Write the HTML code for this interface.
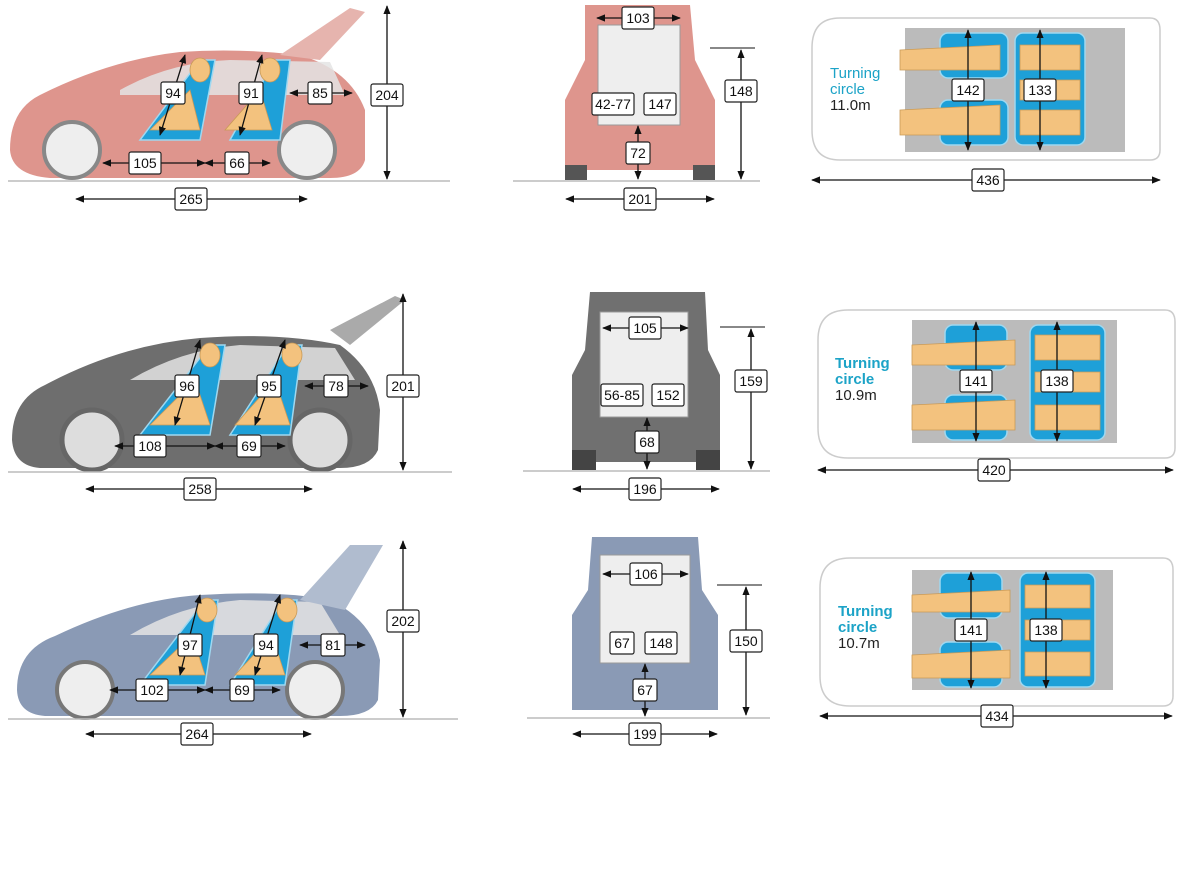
<!DOCTYPE html>
<html><head><meta charset="utf-8"><style>
html,body{margin:0;padding:0;background:#fff}
svg{display:block}
text{font-family:"Liberation Sans",sans-serif}
.l rect{fill:#fff;stroke:#222;stroke-width:1.2}
.l text{font-size:14px;fill:#111;text-anchor:middle;dominant-baseline:central}
.a{stroke:#111;stroke-width:1.3;marker-start:url(#m);marker-end:url(#m)}
.g{stroke:#bbb;stroke-width:1.5}
.tc{font-size:15px;fill:#1ca3c7}
.tm{font-size:15px;fill:#222}
.seat{fill:#1ea0d8;stroke:#9fd8f0;stroke-width:1.5}
.fig{fill:#f3c27e;stroke:#c99a57;stroke-width:.8}
.top{fill:#fff;stroke:#ccc;stroke-width:1.5}
.win{fill:#e4e4e4;opacity:.85}
</style></head><body>
<svg width="1204" height="869" viewBox="0 0 1204 869">
<defs><marker id="m" viewBox="0 0 10 10" refX="9" refY="5" markerWidth="7" markerHeight="7" orient="auto-start-reverse"><path d="M0,1 L10,5 L0,9z" fill="#111"/></marker></defs>

<!-- ROW 1 side car -->
<path d="M10,150 Q10,110 40,95 Q110,60 180,52 Q240,48 300,55 Q350,70 365,110 L365,160 Q360,178 330,178 L50,178 Q12,175 10,150z" fill="#de958d"/>
<path d="M120,90 Q170,62 230,60 L330,62 L345,95 L120,95z" class="win"/>
<path d="M280,55 L350,8 L365,12 L320,60z" fill="#e6b4ae"/>
<circle cx="72" cy="150" r="28" fill="#eee" stroke="#888" stroke-width="4"/>
<circle cx="307" cy="150" r="28" fill="#eee" stroke="#888" stroke-width="4"/>
<path d="M140,140 L200,140 L215,60 L200,60 Z" class="seat"/><path d="M230,140 L280,140 L290,60 L275,60 Z" class="seat"/>
<ellipse cx="200" cy="70" rx="10" ry="12" class="fig"/><ellipse cx="270" cy="70" rx="10" ry="12" class="fig"/>
<path d="M150,130 L190,90 L200,130z" class="fig"/><path d="M225,130 L260,90 L272,130z" class="fig"/>
<line x1="8" y1="181" x2="450" y2="181" class="g"/>
<line x1="387" y1="6" x2="387" y2="179" class="a"/>
<line x1="76" y1="199" x2="307" y2="199" class="a"/>
<line x1="103" y1="163" x2="205" y2="163" class="a"/><line x1="205" y1="163" x2="270" y2="163" class="a"/>
<line x1="160" y1="135" x2="185" y2="55" class="a"/><line x1="240" y1="135" x2="262" y2="55" class="a"/>
<line x1="290" y1="93" x2="352" y2="93" class="a"/>
<g class="l"><rect x="371" y="84" width="32" height="22" rx="2"/><text x="387" y="95">204</text></g>
<g class="l"><rect x="175" y="188" width="32" height="22" rx="2"/><text x="191" y="199">265</text></g>
<g class="l"><rect x="161" y="82" width="24" height="22" rx="2"/><text x="173" y="93">94</text></g>
<g class="l"><rect x="239" y="82" width="24" height="22" rx="2"/><text x="251" y="93">91</text></g>
<g class="l"><rect x="308" y="82" width="24" height="22" rx="2"/><text x="320" y="93">85</text></g>
<g class="l"><rect x="129" y="152" width="32" height="22" rx="2"/><text x="145" y="163">105</text></g>
<g class="l"><rect x="225" y="152" width="24" height="22" rx="2"/><text x="237" y="163">66</text></g>

<!-- ROW 1 rear -->
<path d="M585,5 L690,5 L695,60 L715,100 L715,170 L565,170 L565,100 L585,60z" fill="#de958d"/>
<rect x="598" y="25" width="82" height="100" fill="#eee" stroke="#999"/>
<rect x="565" y="165" width="22" height="15" fill="#555"/><rect x="693" y="165" width="22" height="15" fill="#555"/>
<line x1="513" y1="181" x2="760" y2="181" class="g"/>
<line x1="597" y1="18" x2="680" y2="18" class="a"/>
<line x1="638" y1="126" x2="638" y2="179" class="a"/>
<line x1="566" y1="199" x2="714" y2="199" class="a"/>
<line x1="741" y1="50" x2="741" y2="179" class="a"/><line x1="710" y1="48" x2="755" y2="48" stroke="#111"/>
<g class="l"><rect x="622" y="7" width="32" height="22" rx="2"/><text x="638" y="18">103</text></g>
<g class="l"><rect x="592" y="93" width="42" height="22" rx="2"/><text x="613" y="104">42-77</text></g>
<g class="l"><rect x="644" y="93" width="32" height="22" rx="2"/><text x="660" y="104">147</text></g>
<g class="l"><rect x="626" y="142" width="24" height="22" rx="2"/><text x="638" y="153">72</text></g>
<g class="l"><rect x="624" y="188" width="32" height="22" rx="2"/><text x="640" y="199">201</text></g>
<g class="l"><rect x="725" y="80" width="32" height="22" rx="2"/><text x="741" y="91">148</text></g>

<!-- ROW 1 top -->
<path d="M840,18 L1150,18 Q1160,18 1160,30 L1160,150 Q1160,160 1150,160 L840,160 Q812,160 812,130 L812,48 Q812,18 840,18z" class="top"/>
<rect x="905" y="28" width="220" height="124" fill="#bbb"/>
<rect x="940" y="33" width="68" height="45" rx="8" class="seat"/><rect x="940" y="100" width="68" height="45" rx="8" class="seat"/>
<rect x="1015" y="33" width="70" height="112" rx="8" class="seat"/>
<path d="M900,50 L1000,45 L1000,70 L900,70z M900,110 L1000,105 L1000,135 L900,135z M1020,45 L1080,45 L1080,70 L1020,70z M1020,80 L1080,80 L1080,100 L1020,100z M1020,110 L1080,110 L1080,135 L1020,135z" class="fig"/>
<line x1="968" y1="30" x2="968" y2="150" class="a"/><line x1="1040" y1="30" x2="1040" y2="150" class="a"/>
<text x="830" y="78" class="tc">Turning</text><text x="830" y="94" class="tc">circle</text><text x="830" y="110" class="tm">11.0m</text>
<g class="l"><rect x="952" y="79" width="32" height="22" rx="2"/><text x="968" y="90">142</text></g>
<g class="l"><rect x="1024" y="79" width="32" height="22" rx="2"/><text x="1040" y="90">133</text></g>
<line x1="812" y1="180" x2="1160" y2="180" class="a"/>
<g class="l"><rect x="972" y="169" width="32" height="22" rx="2"/><text x="988" y="180">436</text></g>

<!-- ROW 2 side -->
<path d="M12,440 Q12,400 45,385 Q120,345 200,338 Q280,332 340,345 Q375,370 380,410 L378,450 Q370,468 340,468 L40,468 Q14,466 12,440z" fill="#6e6e6e"/>
<path d="M130,380 Q180,350 240,345 L335,348 L355,380z" class="win"/>
<path d="M330,330 L395,296 L405,300 L350,345z" fill="#aaa"/>
<circle cx="92" cy="440" r="30" fill="#ddd" stroke="#666" stroke-width="5"/>
<circle cx="320" cy="440" r="30" fill="#ddd" stroke="#666" stroke-width="5"/>
<path d="M140,435 L210,435 L225,345 L210,345 Z" class="seat"/><path d="M230,435 L290,435 L302,345 L288,345 Z" class="seat"/>
<ellipse cx="210" cy="355" rx="10" ry="12" class="fig"/><ellipse cx="292" cy="355" rx="10" ry="12" class="fig"/>
<path d="M150,425 L195,380 L210,425z" class="fig"/><path d="M235,425 L275,380 L290,425z" class="fig"/>
<line x1="8" y1="472" x2="452" y2="472" class="g"/>
<line x1="403" y1="294" x2="403" y2="470" class="a"/>
<line x1="86" y1="489" x2="312" y2="489" class="a"/>
<line x1="115" y1="446" x2="215" y2="446" class="a"/><line x1="215" y1="446" x2="285" y2="446" class="a"/>
<line x1="175" y1="425" x2="200" y2="340" class="a"/><line x1="255" y1="425" x2="285" y2="340" class="a"/>
<line x1="305" y1="386" x2="368" y2="386" class="a"/>
<g class="l"><rect x="387" y="375" width="32" height="22" rx="2"/><text x="403" y="386">201</text></g>
<g class="l"><rect x="184" y="478" width="32" height="22" rx="2"/><text x="200" y="489">258</text></g>
<g class="l"><rect x="175" y="375" width="24" height="22" rx="2"/><text x="187" y="386">96</text></g>
<g class="l"><rect x="257" y="375" width="24" height="22" rx="2"/><text x="269" y="386">95</text></g>
<g class="l"><rect x="324" y="375" width="24" height="22" rx="2"/><text x="336" y="386">78</text></g>
<g class="l"><rect x="134" y="435" width="32" height="22" rx="2"/><text x="150" y="446">108</text></g>
<g class="l"><rect x="237" y="435" width="24" height="22" rx="2"/><text x="249" y="446">69</text></g>

<!-- ROW 2 rear -->
<path d="M590,292 L705,292 L708,350 L720,375 L720,462 L572,462 L572,375 L585,350z" fill="#707070"/>
<rect x="600" y="312" width="88" height="105" fill="#eee" stroke="#999"/>
<rect x="572" y="450" width="24" height="20" fill="#444"/><rect x="696" y="450" width="24" height="20" fill="#444"/>
<line x1="523" y1="471" x2="770" y2="471" class="g"/>
<line x1="603" y1="328" x2="688" y2="328" class="a"/>
<line x1="647" y1="418" x2="647" y2="469" class="a"/>
<line x1="573" y1="489" x2="719" y2="489" class="a"/>
<line x1="751" y1="329" x2="751" y2="469" class="a"/><line x1="720" y1="327" x2="765" y2="327" stroke="#111"/>
<g class="l"><rect x="629" y="317" width="32" height="22" rx="2"/><text x="645" y="328">105</text></g>
<g class="l"><rect x="601" y="384" width="42" height="22" rx="2"/><text x="622" y="395">56-85</text></g>
<g class="l"><rect x="652" y="384" width="32" height="22" rx="2"/><text x="668" y="395">152</text></g>
<g class="l"><rect x="635" y="431" width="24" height="22" rx="2"/><text x="647" y="442">68</text></g>
<g class="l"><rect x="629" y="478" width="32" height="22" rx="2"/><text x="645" y="489">196</text></g>
<g class="l"><rect x="735" y="370" width="32" height="22" rx="2"/><text x="751" y="381">159</text></g>

<!-- ROW 2 top -->
<path d="M848,310 L1165,310 Q1175,310 1175,322 L1175,448 Q1175,458 1165,458 L848,458 Q818,458 818,428 L818,340 Q818,310 848,310z" class="top"/>
<rect x="912" y="320" width="205" height="123" fill="#bbb"/>
<rect x="945" y="325" width="62" height="45" rx="8" class="seat"/><rect x="945" y="395" width="62" height="45" rx="8" class="seat"/>
<rect x="1030" y="325" width="75" height="115" rx="8" class="seat"/>
<path d="M912,345 L1015,340 L1015,365 L912,365z M912,405 L1015,400 L1015,430 L912,430z M1035,335 L1100,335 L1100,360 L1035,360z M1035,372 L1100,372 L1100,392 L1035,392z M1035,405 L1100,405 L1100,430 L1035,430z" class="fig"/>
<line x1="976" y1="322" x2="976" y2="441" class="a"/><line x1="1057" y1="322" x2="1057" y2="441" class="a"/>
<text x="835" y="368" class="tc" font-weight="bold">Turning</text><text x="835" y="384" class="tc" font-weight="bold">circle</text><text x="835" y="400" class="tm">10.9m</text>
<g class="l"><rect x="960" y="370" width="32" height="22" rx="2"/><text x="976" y="381">141</text></g>
<g class="l"><rect x="1041" y="370" width="32" height="22" rx="2"/><text x="1057" y="381">138</text></g>
<line x1="818" y1="470" x2="1173" y2="470" class="a"/>
<g class="l"><rect x="978" y="459" width="32" height="22" rx="2"/><text x="994" y="470">420</text></g>

<!-- ROW 3 side -->
<path d="M17,690 Q17,650 55,636 Q130,600 200,595 Q280,590 330,600 Q372,620 380,660 L378,700 Q370,716 340,716 L45,716 Q18,714 17,690z" fill="#8a9ab5"/>
<path d="M130,635 Q180,605 240,600 L320,602 L340,635z" class="win"/>
<path d="M300,600 L350,545 L383,545 L345,610z" fill="#b0bccf"/>
<circle cx="85" cy="690" r="28" fill="#eee" stroke="#777" stroke-width="4"/>
<circle cx="315" cy="690" r="28" fill="#eee" stroke="#777" stroke-width="4"/>
<path d="M140,685 L205,685 L218,600 L205,600 Z" class="seat"/><path d="M230,685 L285,685 L297,600 L283,600 Z" class="seat"/>
<ellipse cx="207" cy="610" rx="10" ry="12" class="fig"/><ellipse cx="287" cy="610" rx="10" ry="12" class="fig"/>
<path d="M150,675 L192,635 L205,675z" class="fig"/><path d="M235,675 L272,635 L285,675z" class="fig"/>
<line x1="8" y1="719" x2="458" y2="719" class="g"/>
<line x1="403" y1="541" x2="403" y2="717" class="a"/>
<line x1="86" y1="734" x2="311" y2="734" class="a"/>
<line x1="110" y1="690" x2="205" y2="690" class="a"/><line x1="205" y1="690" x2="280" y2="690" class="a"/>
<line x1="180" y1="675" x2="200" y2="595" class="a"/><line x1="255" y1="675" x2="280" y2="595" class="a"/>
<line x1="300" y1="645" x2="365" y2="645" class="a"/>
<g class="l"><rect x="387" y="610" width="32" height="22" rx="2"/><text x="403" y="621">202</text></g>
<g class="l"><rect x="181" y="723" width="32" height="22" rx="2"/><text x="197" y="734">264</text></g>
<g class="l"><rect x="178" y="634" width="24" height="22" rx="2"/><text x="190" y="645">97</text></g>
<g class="l"><rect x="254" y="634" width="24" height="22" rx="2"/><text x="266" y="645">94</text></g>
<g class="l"><rect x="321" y="634" width="24" height="22" rx="2"/><text x="333" y="645">81</text></g>
<g class="l"><rect x="136" y="679" width="32" height="22" rx="2"/><text x="152" y="690">102</text></g>
<g class="l"><rect x="230" y="679" width="24" height="22" rx="2"/><text x="242" y="690">69</text></g>

<!-- ROW 3 rear -->
<path d="M592,537 L698,537 L702,590 L718,615 L718,710 L572,710 L572,615 L588,590z" fill="#8a9ab5"/>
<rect x="600" y="555" width="90" height="108" fill="#eee" stroke="#999"/>
<line x1="527" y1="718" x2="770" y2="718" class="g"/>
<line x1="603" y1="574" x2="688" y2="574" class="a"/>
<line x1="645" y1="664" x2="645" y2="716" class="a"/>
<line x1="573" y1="734" x2="717" y2="734" class="a"/>
<line x1="746" y1="587" x2="746" y2="715" class="a"/><line x1="717" y1="585" x2="762" y2="585" stroke="#111"/>
<g class="l"><rect x="630" y="563" width="32" height="22" rx="2"/><text x="646" y="574">106</text></g>
<g class="l"><rect x="610" y="632" width="24" height="22" rx="2"/><text x="622" y="643">67</text></g>
<g class="l"><rect x="645" y="632" width="32" height="22" rx="2"/><text x="661" y="643">148</text></g>
<g class="l"><rect x="633" y="679" width="24" height="22" rx="2"/><text x="645" y="690">67</text></g>
<g class="l"><rect x="629" y="723" width="32" height="22" rx="2"/><text x="645" y="734">199</text></g>
<g class="l"><rect x="730" y="630" width="32" height="22" rx="2"/><text x="746" y="641">150</text></g>

<!-- ROW 3 top -->
<path d="M850,558 L1163,558 Q1173,558 1173,570 L1173,696 Q1173,706 1163,706 L850,706 Q820,706 820,676 L820,588 Q820,558 850,558z" class="top"/>
<rect x="912" y="570" width="201" height="120" fill="#bbb"/>
<rect x="940" y="573" width="62" height="45" rx="8" class="seat"/><rect x="940" y="642" width="62" height="45" rx="8" class="seat"/>
<rect x="1020" y="573" width="75" height="114" rx="8" class="seat"/>
<path d="M912,595 L1010,590 L1010,612 L912,612z M912,655 L1010,650 L1010,678 L912,678z M1025,585 L1090,585 L1090,608 L1025,608z M1025,620 L1090,620 L1090,640 L1025,640z M1025,652 L1090,652 L1090,676 L1025,676z" class="fig"/>
<line x1="971" y1="572" x2="971" y2="688" class="a"/><line x1="1046" y1="572" x2="1046" y2="688" class="a"/>
<text x="838" y="616" class="tc" font-weight="bold">Turning</text><text x="838" y="632" class="tc" font-weight="bold">circle</text><text x="838" y="648" class="tm">10.7m</text>
<g class="l"><rect x="955" y="619" width="32" height="22" rx="2"/><text x="971" y="630">141</text></g>
<g class="l"><rect x="1030" y="619" width="32" height="22" rx="2"/><text x="1046" y="630">138</text></g>
<line x1="820" y1="716" x2="1172" y2="716" class="a"/>
<g class="l"><rect x="981" y="705" width="32" height="22" rx="2"/><text x="997" y="716">434</text></g>
</svg>
</body></html>
